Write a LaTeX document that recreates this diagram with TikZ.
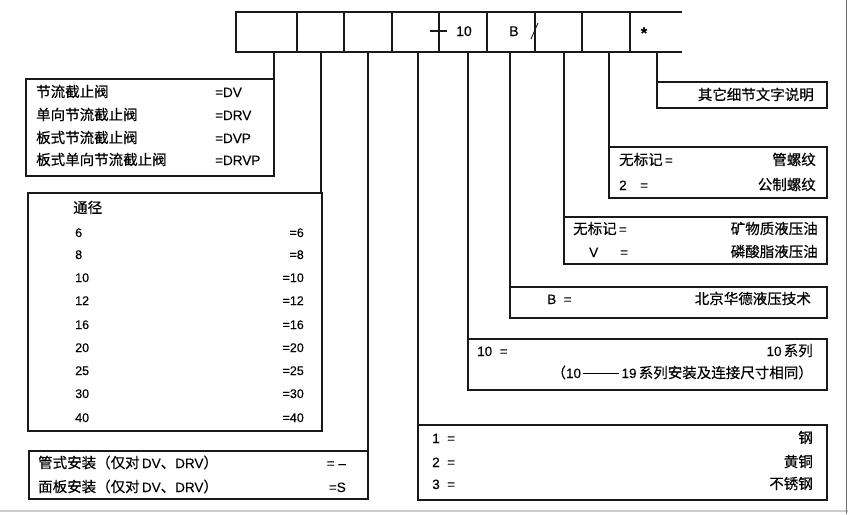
\documentclass[tikz,border=0pt]{standalone}
\usepackage{fontspec}
\setmainfont{Liberation Sans}[FakeBold=0.2]
\newfontfamily\zhfont{Noto Sans CJK SC}[FakeBold=0.4]
\newcommand{\zh}[1]{{\zhfont\fontsize{14.5}{17}\selectfont #1}}
\begin{document}
\begin{tikzpicture}[x=1pt,y=-1pt,
  ln/.style={draw=black!90,line width=1.1pt},
  cell/.style={ln,minimum height=40pt,inner sep=0pt,outer sep=0pt,anchor=north west},
  legbox/.style={ln,inner sep=0pt,outer sep=0pt,anchor=north west},
  tl/.style={anchor=base west,inner sep=0pt,font=\fontsize{13.5}{16}\selectfont},
  tr/.style={anchor=base east,inner sep=0pt,font=\fontsize{13.5}{16}\selectfont},
  conn/.style={ln}]
\useasboundingbox (0,0) rectangle (848,514);
% frame of the scan
\draw[black!20,line width=2pt] (0,511) -- (848,511);
\draw[black!55,line width=1pt] (846.5,0) -- (846.5,514);
% top code row
\node[cell,minimum width=61pt] (c1) at (236,12) {};
\node[cell,minimum width=47pt] (c2) at (297,12) {};
\node[cell,minimum width=48pt] (c3) at (344,12) {};
\node[cell,minimum width=47pt] (c4) at (392,12) {};
\node[cell,minimum width=48pt] (c5) at (439,12) {};
\node[cell,minimum width=48pt] (c6) at (487,12) {};
\node[cell,minimum width=47pt] (c7) at (535,12) {};
\node[cell,minimum width=48pt] (c8) at (582,12) {};
\draw[ln] (c8.north east) -- (682,12) (c8.south east) -- (682,52);
\draw[ln] (430,31) -- (447,31);
\node[tl,font=\fontsize{14}{16}\selectfont] (t10) at (456,36) {10};
\node[tl,font=\fontsize{14}{16}\selectfont] (tB) at (509,36) {B};
\draw[ln,line width=0.9pt] (531,39) -- (538,23);
\node[inner sep=0pt,font=\fontsize{16}{16}\bfseries] (tstar) at (644,33) {*};
% connector start points
\coordinate (p1) at (274,52);
\coordinate (p2) at (321,52);
\coordinate (p3) at (368,52);
\coordinate (p4) at (418,52);
\coordinate (p5) at (468,52);
\coordinate (p6) at (510,52);
\coordinate (p7) at (564,52);
\coordinate (p8) at (609,52);
\coordinate (p9) at (657,52);
% left legend boxes
\node[legbox,minimum width=248pt,minimum height=97pt] (B1) at (26,79) {};
\node[legbox,minimum width=294pt,minimum height=238pt] (B2) at (28,193) {};
\node[legbox,minimum width=339pt,minimum height=48pt] (B3) at (29,451) {};
% right legend boxes
\node[legbox,minimum width=170pt,minimum height=26pt] (R1) at (657,82) {};
\node[legbox,minimum width=218pt,minimum height=51pt] (R2) at (609,147) {};
\node[legbox,minimum width=263pt,minimum height=47pt] (R3) at (564,217) {};
\node[legbox,minimum width=317pt,minimum height=31pt] (R4) at (510,287) {};
\node[legbox,minimum width=359pt,minimum height=51pt] (R5) at (468,339) {};
\node[legbox,minimum width=409pt,minimum height=75pt] (R6) at (418,425) {};
% connectors
\draw[conn] (p1) -- (p1 |- B1.north);
\draw[conn] (p2) -- (p2 |- B2.north);
\draw[conn] (p3) -- (p3 |- B3.north);
\draw[conn] (p4) -- (p4 |- R6.north);
\draw[conn] (p5) -- (p5 |- R5.north);
\draw[conn] (p6) -- (p6 |- R4.north);
\draw[conn] (p7) -- (p7 |- R3.north);
\draw[conn] (p8) -- (p8 |- R2.north);
\draw[conn] (p9) -- (p9 |- R1.north);
% B1 texts
\node[tl] (b1a) at (36,97) {\zh{节流截止阀}};
\node[tl] (b1b) at (36,120) {\zh{单向节流截止阀}};
\node[tl] (b1c) at (36,143) {\zh{板式节流截止阀}};
\node[tl] (b1d) at (36,165) {\zh{板式单向节流截止阀}};
\node[tl] (b1e) at (215,97) {=DV};
\node[tl] (b1f) at (215,120) {=DRV};
\node[tl] (b1g) at (215,143) {=DVP};
\node[tl] (b1h) at (215,165) {=DRVP};
% B2 texts
\node[tl] (b2h) at (73,213) {\zh{通径}};
\foreach \v/\yy [count=\i] in {6/237,8/259,10/282,12/305,16/329,20/352,25/375,30/398,40/422}{
  \node[tl,font=\fontsize{12.5}{15}\selectfont] (b2l\i) at (75,\yy) {\v};
  \node[tr,font=\fontsize{12.5}{15}\selectfont] (b2r\i) at (304,\yy) {=\v};
}
% B3 texts
\node[tl] (b3a) at (38,468) {\zh{管式安装（仅对}\,DV\zh{、}DRV\zh{）}};
\node[tl] (b3b) at (38,492) {\zh{面板安装（仅对}\,DV\zh{、}DRV\zh{）}};
\node[tr] (b3c) at (346,468) {= –};
\node[tr] (b3d) at (346,492) {=S};
% R1
\node[tr] (r1a) at (814,100) {\zh{其它细节文字说明}};
% R2
\node[tl] (r2a) at (619,165) {\zh{无标记}\,=};
\node[tl] (r2b) at (619,190) {2\quad=};
\node[tr] (r2c) at (816,165) {\zh{管螺纹}};
\node[tr] (r2d) at (816,190) {\zh{公制螺纹}};
% R3
\node[tl] (r3a) at (573,234) {\zh{无标记}\,=};
\node[tl] (r3b) at (589,257) {V};
\node[tl] (r3c) at (620,257) {=};
\node[tr] (r3d) at (818,234) {\zh{矿物质液压油}};
\node[tr] (r3e) at (818,257) {\zh{磷酸脂液压油}};
% R4
\node[tl] (r4a) at (547,304) {B\ \ =};
\node[tr] (r4b) at (811,304) {\zh{北京华德液压技术}};
% R5
\node[tl] (r5a) at (477,356) {10\ \ =};
\node[tr] (r5b) at (813,356) {10\,\zh{系列}};
\node[tr] (r5c) at (813,378) {\zh{（}10\,\rule[4.3pt]{36pt}{0.8pt}\,19\,\zh{系列安装及连接尺寸相同）}};
% R6
\node[tl] (r6a) at (432,443) {1\ \ =};
\node[tl] (r6b) at (432,467) {2\ \ =};
\node[tl] (r6c) at (432,489) {3\ \ =};
\node[tr] (r6d) at (813,443) {\zh{钢}};
\node[tr] (r6e) at (813,467) {\zh{黄铜}};
\node[tr] (r6f) at (813,489) {\zh{不锈钢}};
\end{tikzpicture}
\end{document}
